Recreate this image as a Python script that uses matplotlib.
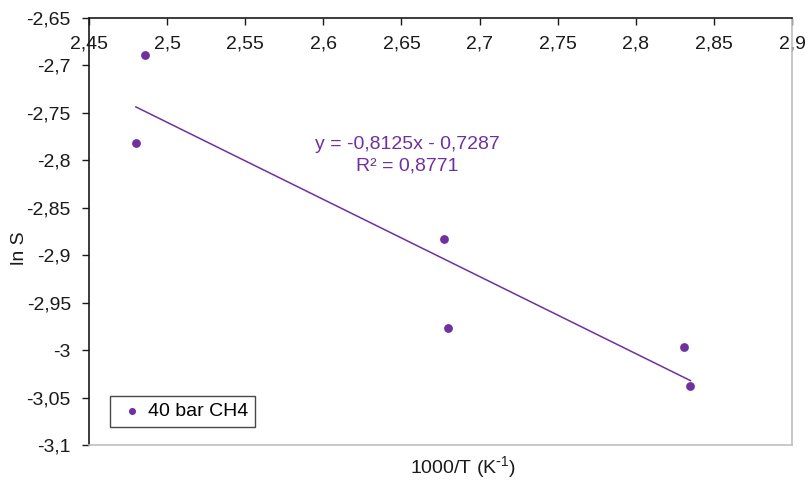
import matplotlib
matplotlib.use("Agg")
import matplotlib.pyplot as plt
from matplotlib.ticker import FuncFormatter, MultipleLocator
import numpy as np

# 1000/T (K^-1) and ln S
inv_t = [2.480, 2.486, 2.677, 2.680, 2.831, 2.835]
ln_s  = [-2.782, -2.689, -2.883, -2.977, -2.997, -3.038]
series_name = "40 bar CH4"

# Excel linear trendline as printed on the chart
slope, intercept, r2 = -0.8125, -0.7287, 0.8771

PURPLE = "#7030A0"
INK = "#1a1a1a"
BORDER = "#BFBFBF"
FS = 14

plt.rcParams.update({
    "font.family": "Liberation Sans",
    "font.size": FS,
    "axes.unicode_minus": False,
    "mathtext.default": "regular",
})

fig = plt.figure(figsize=(8.07, 4.8), dpi=100)
ax = fig.add_axes([89 / 807, 1 - 445 / 480, (792 - 89) / 807, (445 - 18) / 480])

ax.scatter(inv_t, ln_s, s=40, color=PURPLE, zorder=3, label=series_name,
           linewidths=0)
xs = np.array([min(inv_t), max(inv_t)])
ax.plot(xs, slope * xs + intercept, color=PURPLE, lw=1.1, zorder=2)

ax.text(2.654, -2.7828, f"y = {slope:g}x - {abs(intercept):g}".replace(".", ","),
        color=PURPLE, ha="center", va="center", fontsize=FS)
ax.text(2.654, -2.806, f"R² = {r2:g}".replace(".", ","),
        color=PURPLE, ha="center", va="center", fontsize=FS)

ax.set_xlim(2.45, 2.9)
ax.set_ylim(-3.1, -2.65)
ax.xaxis.set_major_locator(MultipleLocator(0.05))
ax.yaxis.set_major_locator(MultipleLocator(0.05))
comma = FuncFormatter(lambda v, p: f"{round(v, 2):g}".replace(".", ","))
ax.xaxis.set_major_formatter(comma)
ax.yaxis.set_major_formatter(comma)

ax.xaxis.tick_top()
ax.tick_params(axis="x", direction="in", length=5, width=1, color=INK,
               labelcolor=INK, pad=-25)
ax.tick_params(axis="y", direction="out", length=5, width=1, color=INK,
               labelcolor=INK, pad=8)

ax.spines["top"].set_color(INK)
ax.spines["left"].set_color(INK)
ax.spines["right"].set_color(BORDER)
ax.spines["bottom"].set_color(BORDER)
for sp in ax.spines.values():
    sp.set_linewidth(1.2)

fig.text(20 / 807, 1 - 248 / 480, "ln S", rotation=90, ha="center",
         va="center", color=INK, fontsize=FS)
fig.text(463 / 807, 1 - 467 / 480, r"1000/T (K$^{\text{-}1}$)", ha="center",
         va="center", color=INK, fontsize=FS)

leg = ax.legend(loc="lower left", bbox_to_anchor=((110 - 89) / 703, (445 - 427) / 427),
                frameon=True, fancybox=False, handletextpad=0.0,
                borderpad=0.35, handlelength=1.6, markerscale=0.8,
                fontsize=FS, borderaxespad=0)
leg.get_frame().set_edgecolor(INK)
leg.get_frame().set_linewidth(1.0)

fig.savefig("out.png", dpi=100)
